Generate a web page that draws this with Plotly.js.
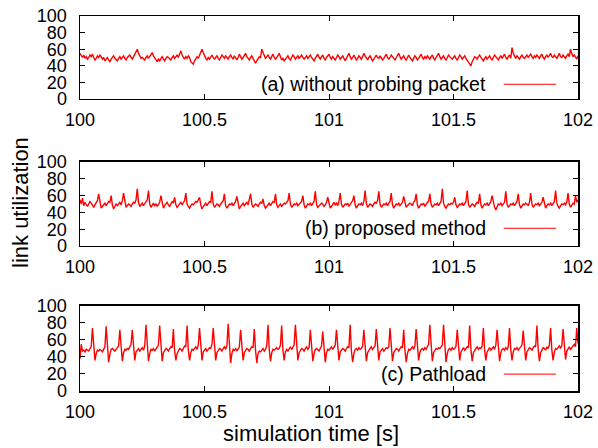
<!DOCTYPE html>
<html>
<head>
<meta charset="utf-8">
<script src="https://cdn.plot.ly/plotly-3.0.1.min.js"></script>
<style>html,body{margin:0;padding:0;background:#fff;}#chart{width:598px;height:448px;}</style>
</head>
<body>
<div id="chart"></div>
<script>
// sampling of the simulation time axis
const startTime = 100;
const sampleStep = 0.005;

const xTickVals = [100, 100.5, 101, 101.5, 102];
const xTickText = ['100', '100.5', '101', '101.5', '102'];
const yTickVals = [0, 20, 40, 60, 80, 100];
const yTickText = ['0', '20', '40', '60', '80', '100'];

const legendA = '(a) without probing packet';
const legendB = '(b) proposed method';
const legendC = '(c) Pathload';
const xTitle = 'simulation time [s]';
const yTitle = 'link utilization';

// (a) without probing packet — link utilization [%]
const utilA = [
55,52,50,53,49,51,48,50,53,51,54,50,47,49,52,50,53,51,48,50,
46,48,50,47,45,48,50,52,49,47,46,49,51,48,50,52,49,47,50,51,
53,50,48,51,54,58,60,55,51,49,50,48,47,50,52,49,51,54,56,52,
50,47,45,48,46,49,51,48,46,49,51,50,48,47,50,52,49,51,53,50,
55,58,53,50,48,51,49,52,50,45,43,42,46,48,51,49,53,55,60,56,
52,49,47,50,48,51,53,50,48,50,52,49,47,50,53,51,49,52,50,48,
51,53,50,48,52,49,47,50,54,51,48,50,52,55,51,49,47,50,52,49,
45,43,46,49,51,50,60,56,52,49,51,53,50,48,51,54,50,48,50,52,
55,51,47,49,46,48,50,52,49,47,50,53,51,48,50,52,49,51,53,50,
48,50,52,49,51,53,50,48,46,49,52,54,50,48,51,53,49,47,50,52,
54,50,48,51,49,47,50,53,51,48,50,52,49,46,49,52,55,51,48,50,
53,50,47,49,52,50,48,51,55,52,49,47,50,52,49,46,48,51,53,50,
49,52,50,47,49,51,54,50,48,50,53,51,49,47,50,52,55,51,48,50,
52,49,47,50,53,50,48,46,49,52,50,47,49,51,54,50,48,51,49,52,
50,48,51,53,49,47,50,52,55,51,48,50,52,49,47,50,53,51,49,48,
50,52,49,47,50,53,51,48,50,52,49,47,44,42,40,45,49,51,50,48,
51,53,50,48,46,49,51,48,50,52,49,47,50,53,51,49,47,50,52,49,
51,54,50,48,51,53,49,62,55,51,49,52,50,48,51,53,50,49,51,53,
50,52,54,51,49,52,50,53,51,49,52,54,50,48,51,53,50,52,55,51,
50,53,51,49,52,55,51,50,53,51,49,52,54,51,60,55,51,53,50,48,
52];

// (b) proposed method
const utilB = [
55,50,57,48,52,49,47,50,53,51,
48,46,49,51,54,62,50,45,47,49,
51,48,50,53,52,60,49,44,47,50,
48,50,52,49,54,63,51,46,48,50,
49,47,50,52,51,55,68,52,47,49,
51,48,50,53,55,66,50,46,49,51,
48,50,47,49,52,60,51,45,48,50,
52,49,47,50,53,51,58,49,46,48,
50,52,49,51,54,63,50,47,45,48,
50,49,51,53,52,55,58,49,44,47,
49,51,48,50,53,52,65,50,46,48,
50,49,47,50,52,54,62,48,45,48,
50,49,51,48,50,53,59,49,44,47,
49,51,48,50,52,49,54,62,50,46,
48,50,49,47,50,52,51,56,48,45,
47,49,51,48,50,53,52,62,49,46,
48,50,47,49,51,50,52,54,63,50,
46,48,50,49,51,48,50,52,53,60,
49,45,48,50,49,51,48,50,53,65,
50,46,48,49,51,50,47,49,52,58,
49,45,47,50,52,49,51,48,53,63,
50,46,48,50,49,51,47,50,52,54,
60,49,45,48,50,49,51,48,53,66,
51,46,48,50,49,47,50,52,51,54,
65,50,46,48,50,49,51,48,50,53,
63,49,45,47,50,49,51,48,50,52,
59,50,46,48,49,51,50,48,52,54,
62,49,45,48,50,49,51,47,50,52,
53,62,50,46,48,50,49,51,48,50,
53,68,51,47,45,48,50,49,51,50,
52,58,49,46,48,50,49,51,48,50,
53,66,50,46,48,50,49,47,50,52,
51,62,49,45,48,50,49,51,48,50,
53,60,50,46,43,47,50,49,51,48,
50,52,65,50,46,48,50,49,51,48,
50,53,62,49,45,48,50,49,51,50,
48,52,63,50,46,48,50,49,51,48,
50,52,58,49,45,48,50,49,51,48,
50,53,66,51,47,45,48,50,49,51,
49,52,63,50,46,48,51,50,60,52,
55];

// (c) Pathload
const utilC = [
38,55,47,48,46,49,48,47,50,52,
74,49,36,44,48,47,49,48,46,49,
52,76,47,34,43,49,50,48,47,49,
51,53,72,48,35,45,49,48,50,49,
52,55,72,50,36,46,48,50,47,49,
51,48,53,78,48,35,44,49,48,50,
47,49,51,54,77,49,35,45,48,50,
49,47,50,52,51,73,47,36,44,48,
50,49,47,50,53,52,77,48,36,45,
49,48,50,52,49,54,74,49,36,46,
48,50,47,49,51,50,55,74,48,36,
45,48,50,49,47,50,52,49,53,79,
47,33,44,49,48,50,47,49,52,72,
49,36,45,48,50,49,47,50,52,51,
73,48,33,44,47,46,48,50,47,49,
53,78,49,35,45,49,48,50,51,49,
50,54,77,48,36,46,49,47,50,52,
49,51,54,78,48,36,45,48,50,49,
47,50,52,49,51,72,47,35,44,49,
50,48,47,50,53,70,48,34,45,49,
48,50,52,49,51,54,72,49,36,46,
48,50,49,47,50,52,51,78,47,34,
44,49,50,48,51,49,50,53,72,48,
35,45,48,50,52,49,51,53,73,48,
36,46,49,50,47,49,51,50,52,74,
48,35,45,48,50,49,47,50,52,51,
72,48,34,44,49,48,50,52,49,53,
73,47,36,45,49,50,48,51,49,52,
55,78,49,35,45,48,50,49,51,50,
52,54,78,48,34,44,49,50,48,51,
49,50,53,72,48,36,46,49,51,48,
50,52,51,77,49,35,45,48,50,52,
49,51,50,53,74,48,36,46,49,51,
48,50,52,49,54,72,47,35,45,49,
50,48,51,49,52,74,49,36,46,50,
49,51,48,50,52,54,71,48,36,46,
49,51,50,48,51,53,52,77,49,35,
45,49,51,50,48,52,50,54,74,48,
36,46,50,49,51,53,50,54,73,49,
37,47,50,52,49,51,53,55,52,74,
56];

const timeOf = arr => arr.map((_, i) => +(startTime + i * sampleStep).toFixed(3));

const FONT = 'Liberation Sans, Arial, Helvetica, sans-serif';
const RED = '#ff0000';

function lineTrace(vals, xa, ya, name) {
  return {
    x: timeOf(vals), y: vals, xaxis: xa, yaxis: ya, name: name,
    type: 'scatter', mode: 'lines',
    line: {color: RED, width: 1.4},
    showlegend: false, hoverinfo: 'skip'
  };
}

const data = [
  lineTrace(utilA, 'x', 'y', legendA),
  lineTrace(utilB, 'x2', 'y2', legendB),
  lineTrace(utilC, 'x3', 'y3', legendC)
];

function xAxis(anchor) {
  return {
    anchor: anchor, domain: [0, 1], range: [100, 102],
    tickmode: 'array', tickvals: xTickVals, ticktext: xTickText,
    ticks: 'inside', ticklen: 5, tickwidth: 1, tickcolor: '#000',
    showline: true, linecolor: '#000', linewidth: 1.5, mirror: 'ticks',
    showgrid: false, zeroline: false,
    tickfont: {family: FONT, size: 18, color: '#000'},
    ticklabelstandoff: 4, fixedrange: true
  };
}
function yAxis(anchor, dom) {
  return {
    anchor: anchor, domain: dom, range: [0, 100],
    tickmode: 'array', tickvals: yTickVals, ticktext: yTickText,
    ticks: 'inside', ticklen: 5, tickwidth: 1, tickcolor: '#000',
    showline: true, linecolor: '#000', linewidth: 1.5, mirror: 'ticks',
    showgrid: false, zeroline: false,
    tickfont: {family: FONT, size: 18, color: '#000'},
    ticklabelstandoff: 8, fixedrange: true
  };
}

// legend rows: [text, y position (paper)]
const legendRows = [[legendA, 0.818], [legendB, 0.434], [legendC, 0.045]];

const annotations = legendRows.map(([txt, yy]) => ({
  text: txt, xref: 'paper', yref: 'paper', x: 0.819, y: yy,
  xanchor: 'right', yanchor: 'middle', showarrow: false,
  font: {family: FONT, size: 19.5, color: '#000'}
}));
annotations.push({
  text: xTitle, xref: 'paper', yref: 'paper', x: 0.464, y: -0.112,
  xanchor: 'center', yanchor: 'middle', showarrow: false,
  font: {family: FONT, size: 22, color: '#000'}
});
annotations.push({
  text: yTitle, xref: 'paper', yref: 'paper', x: -0.1205, y: 0.504,
  xanchor: 'center', yanchor: 'middle', showarrow: false, textangle: -90,
  font: {family: FONT, size: 22, color: '#000'}
});

const shapes = legendRows.map(([txt, yy]) => ({
  type: 'line', xref: 'paper', yref: 'paper',
  x0: 0.851, x1: 0.956, y0: yy, y1: yy,
  line: {color: RED, width: 1}
}));

const layout = {
  width: 598, height: 448,
  margin: {l: 80, r: 20, t: 16, b: 57},
  paper_bgcolor: '#fff', plot_bgcolor: '#fff',
  showlegend: false,
  font: {family: FONT, color: '#000'},
  xaxis: xAxis('y'), xaxis2: xAxis('y2'), xaxis3: xAxis('y3'),
  yaxis: yAxis('x', [0.7787, 1]),
  yaxis2: yAxis('x2', [0.3867, 0.6107]),
  yaxis3: yAxis('x3', [0, 0.2267]),
  annotations: annotations,
  shapes: shapes
};

Plotly.newPlot('chart', data, layout, {displayModeBar: false, staticPlot: true});
</script>
</body>
</html>
